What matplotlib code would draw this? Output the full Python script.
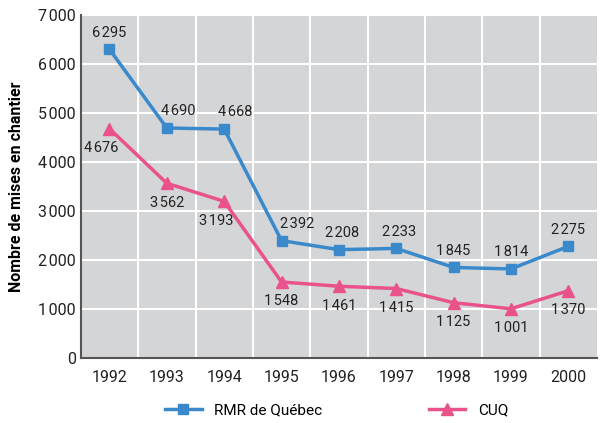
import matplotlib.pyplot as plt

plt.rcParams['font.family'] = ['Roboto', 'DejaVu Sans']

years = ['1992', '1993', '1994', '1995', '1996', '1997', '1998', '1999', '2000']
rmr = [6295, 4690, 4668, 2392, 2208, 2233, 1845, 1814, 2275]
cuq = [4676, 3562, 3193, 1548, 1461, 1415, 1125, 1001, 1370]

blue = '#3a8acb'
pink = '#e9528a'


def fmt(v):
    return f"{v:,}".replace(',', '\u200a')


fig = plt.figure(figsize=(6.03, 4.23), dpi=100)
ax = fig.add_axes([0.134, 0.154, 0.856, 0.811])
ax.set_facecolor('#d4d5d7')

x = range(len(years))
ax.plot(x, rmr, color=blue, lw=2.5, marker='s', ms=7, label='RMR de Québec', zorder=3)
ax.plot(x, cuq, color=pink, lw=2.5, marker='^', ms=9, label='CUQ', zorder=3)

# small horizontal nudges (points) to avoid the lines
rmr_dx = [0, 8, 8, 11, 2, 2, 0, 0, 0]
cuq_dx = [-6, 0, -6, 0, 0, 0, 0, 0, 0]
for i, v in enumerate(rmr):
    ax.annotate(fmt(v), (i, v), xytext=(rmr_dx[i], 7), textcoords='offset points',
                ha='center', va='bottom', fontsize=10.5, color='#222222')
for i, v in enumerate(cuq):
    ax.annotate(fmt(v), (i, v), xytext=(cuq_dx[i], -9), textcoords='offset points',
                ha='center', va='top', fontsize=10.5, color='#222222')

ax.set_xlim(-0.5, len(years) - 0.5)
ax.set_ylim(0, 7000)
ax.set_xticks(list(x))
ax.set_xticklabels(years)
ax.set_xticks([i + 0.5 for i in range(len(years) - 1)], minor=True)
ax.set_yticks(range(0, 7001, 1000))
ax.set_yticklabels([fmt(v) for v in range(0, 7001, 1000)])
ax.tick_params(axis='both', which='both', length=0, labelsize=11.5, colors='#222222')
ax.tick_params(axis='x', pad=9)
ax.grid(True, axis='y', color='white', lw=1.5)
ax.grid(True, axis='x', which='minor', color='white', lw=1.5)
ax.set_axisbelow(True)
for s in ['top', 'right']:
    ax.spines[s].set_visible(False)
for s in ['left', 'bottom']:
    ax.spines[s].set_color('#555555')
    ax.spines[s].set_linewidth(1.5)

ax.set_ylabel('Nombre de mises en chantier', fontsize=11.5, fontweight='bold', labelpad=10)

fig.legend(loc='lower center', bbox_to_anchor=(0.558, -0.02), ncol=2, frameon=False,
           fontsize=11, handlelength=2.4, columnspacing=7)

fig.savefig('out.png', dpi=100)
